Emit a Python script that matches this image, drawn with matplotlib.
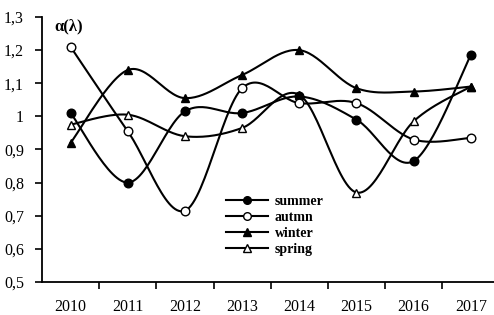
import numpy as np
import matplotlib
matplotlib.use("Agg")
import matplotlib.pyplot as plt
from matplotlib.lines import Line2D

years = ["2010", "2011", "2012", "2013", "2014", "2015", "2016", "2017"]
summer = [1.01, 0.80, 1.015, 1.01, 1.06, 0.99, 0.865, 1.185]
autumn = [1.21, 0.955, 0.715, 1.085, 1.04, 1.04, 0.93, 0.935]
winter = [0.92, 1.14, 1.055, 1.125, 1.20, 1.085, 1.075, 1.09]
spring = [0.975, 1.005, 0.94, 0.965, 1.065, 0.77, 0.985, 1.09]
yticks = [0.5, 0.6, 0.7, 0.8, 0.9, 1.0, 1.1, 1.2, 1.3]
ytick_labels = ["0,5", "0,6", "0,7", "0,8", "0,9", "1", "1,1", "1,2", "1,3"]

series = [
    ("summer", summer, "o", "black", 4),
    ("autmn", autumn, "o", "white", 5),
    ("winter", winter, "^", "black", 6),
    ("spring", spring, "^", "white", 3),
]


def smooth(x, y, n=30):
    x = np.asarray(x, float)
    y = np.asarray(y, float)
    px = np.concatenate([[x[0]], x, [x[-1]]])
    py = np.concatenate([[y[0]], y, [y[-1]]])
    xs, ys = [], []
    t = np.linspace(0, 1, n)
    for i in range(1, len(px) - 2):
        p0 = np.array([px[i], py[i]])
        p1 = np.array([px[i + 1], py[i + 1]])
        c1 = p0 + (p1 - np.array([px[i - 1], py[i - 1]])) / 6
        c2 = p1 - (np.array([px[i + 2], py[i + 2]]) - p0) / 6
        b = ((1 - t) ** 3)[:, None] * p0 + (3 * (1 - t) ** 2 * t)[:, None] * c1 \
            + (3 * (1 - t) * t ** 2)[:, None] * c2 + (t ** 3)[:, None] * p1
        xs.append(b[:, 0])
        ys.append(b[:, 1])
    return np.concatenate(xs), np.concatenate(ys)


fig = plt.figure(figsize=(4.94, 3.15), dpi=100)
ax = fig.add_axes([0.085, 0.105, 0.926, 0.841])
serif = "Liberation Serif"

x = np.arange(len(years))
for name, vals, mk, fc, z in series:
    sx, sy = smooth(x, vals)
    ax.plot(sx, sy, color="black", lw=1.5, zorder=2)
    ax.plot(x, vals, linestyle="none", marker=mk, markersize=6.2,
            markerfacecolor=fc, markeredgecolor="black", markeredgewidth=1.0, zorder=z)

ax.set_xlim(-0.5, 7.5)
ax.set_ylim(0.5, 1.3)
ax.set_yticks(yticks)
ax.set_yticklabels(ytick_labels, fontfamily=serif, fontsize=11.5)
ax.set_xticks(np.arange(0.5, 7.5, 1.0))
ax.set_xticklabels([])
ax.set_xticks(x, minor=True)
ax.set_xticklabels(years, minor=True, fontfamily=serif, fontsize=11.5)
ax.tick_params(axis="x", which="minor", length=0, pad=12)
ax.tick_params(axis="x", which="major", length=5, width=1.2, direction="out")
ax.tick_params(axis="y", length=5, width=1.2, direction="out", pad=8)
for s in ["top", "right"]:
    ax.spines[s].set_visible(False)
for s in ["left", "bottom"]:
    ax.spines[s].set_linewidth(1.3)

ax.text(0.028, 0.965, "α(λ)", transform=ax.transAxes, fontfamily=serif,
        fontsize=12, fontweight="bold", va="center", ha="left")

handles = [Line2D([], [], color="black", lw=1.5, marker=mk, markersize=5.5,
                  markerfacecolor=fc, markeredgecolor="black")
           for name, vals, mk, fc, z in series]
ax.legend(handles, [s[0] for s in series], loc="upper left",
          bbox_to_anchor=(0.375, 0.375), frameon=False, handlelength=3.0,
          handletextpad=0.5, labelspacing=0.22,
          prop={"family": serif, "weight": "bold", "size": 10})

fig.savefig("out.png", dpi=100)
